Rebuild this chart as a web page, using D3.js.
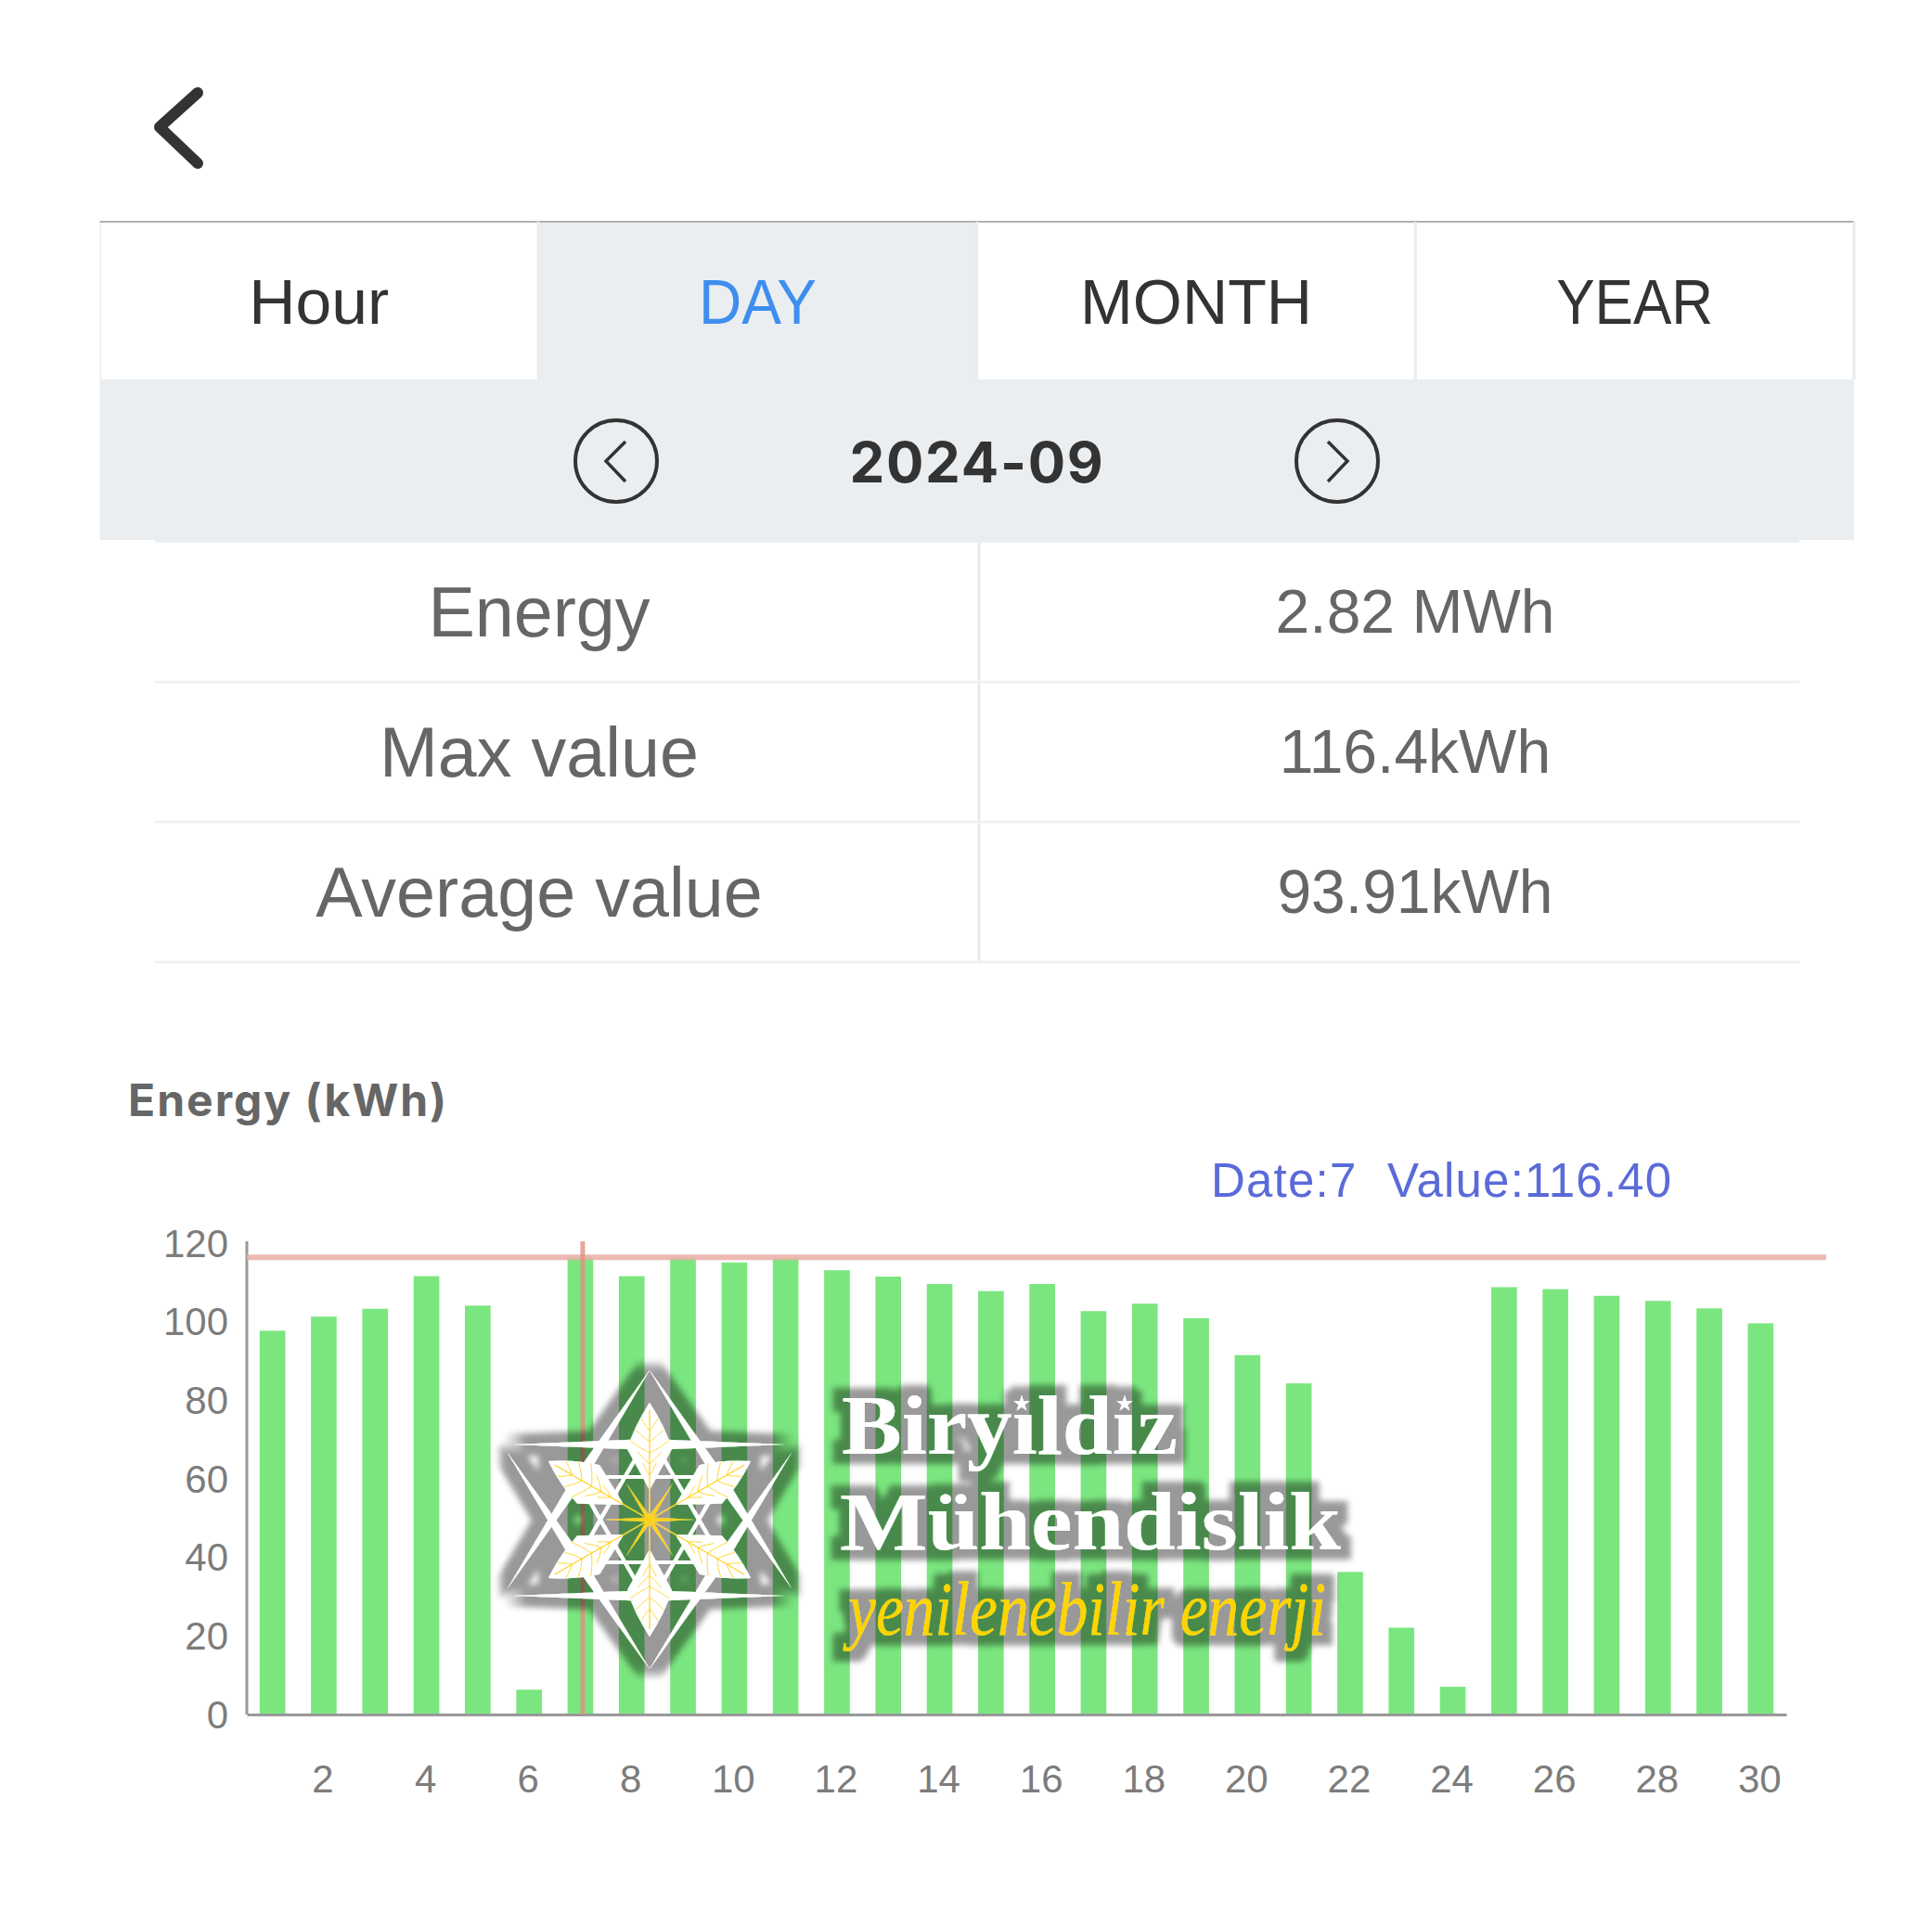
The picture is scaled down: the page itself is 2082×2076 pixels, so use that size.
<!DOCTYPE html>
<html>
<head>
<meta charset="utf-8">
<script src="https://d3js.org/d3.v7.min.js"></script>
<style>
  html, body { margin: 0; padding: 0; background: #fff; }
  svg { display: block; }
  text { font-family: "Liberation Sans", sans-serif; }
</style>
</head>
<body>
<svg id="chart" width="2082" height="2076"></svg>
<script>
// values
const days = d3.range(1, 31);
const energy = [97.7, 101.3, 103.3, 111.6, 104.1, 6.3, 116.4, 111.6, 116.2, 115.1,
  116.1, 113.1, 111.5, 109.6, 107.8, 109.6, 102.7, 104.6, 100.9, 91.5,
  84.3, 36.3, 22.1, 7.05, 108.8, 108.3, 106.6, 105.3, 103.4, 99.6];
const yTicks = [0, 20, 40, 60, 80, 100, 120];
const xTicks = days.filter(d => d % 2 === 0);
const tabs = ["Hour", "DAY", "MONTH", "YEAR"];
const tabWidths = [151, 127, 250, 169];
const summaryRows = ["Energy", "Max value", "Average value"];
const summaryValues = ["2.82 MWh", "116.4kWh", "93.91kWh"];
const selectedDay = 7;
const maxValue = 116.4;

const svg = d3.select("#chart");

// header
svg.append("path")
  .attr("d", "M213,100L172,137L213,176")
  .attr("fill", "none").attr("stroke", "#333").attr("stroke-width", 12)
  .attr("stroke-linecap", "round").attr("stroke-linejoin", "round");

const left = 107.5, right = 1998, tabTop = 239, tabBottom = 409, bandBottom = 582;
const tabX = d3.scaleBand().domain(tabs).range([left, right]);

svg.append("rect").attr("x", left).attr("y", tabBottom)
  .attr("width", right - left).attr("height", bandBottom - tabBottom).attr("fill", "#ebeef1");
svg.append("rect").attr("x", 167).attr("y", bandBottom)
  .attr("width", 1772).attr("height", 3).attr("fill", "#ebeef1");
svg.append("rect").attr("x", tabX("DAY")).attr("y", tabTop)
  .attr("width", tabX.bandwidth()).attr("height", tabBottom - tabTop).attr("fill", "#ebeef1");
svg.append("line").attr("x1", left + 1).attr("x2", left + 1).attr("y1", tabTop).attr("y2", tabBottom)
  .attr("stroke", "#eceef0").attr("stroke-width", 2);
svg.append("line").attr("x1", left).attr("x2", right).attr("y1", tabTop).attr("y2", tabTop)
  .attr("stroke", "#b0b0b0").attr("stroke-width", 2);

tabs.forEach((t, i) => {
  svg.append("line").attr("x1", tabX(t) + tabX.bandwidth()).attr("x2", tabX(t) + tabX.bandwidth())
    .attr("y1", tabTop).attr("y2", tabBottom).attr("stroke", "#e9ebee").attr("stroke-width", 3);
  svg.append("text").attr("x", tabX(t) + tabX.bandwidth() / 2).attr("y", 349)
    .attr("text-anchor", "middle").attr("font-size", 69)
    .attr("textLength", tabWidths[i]).attr("lengthAdjust", "spacingAndGlyphs")
    .attr("fill", t === "DAY" ? "#3e8ef0" : "#333").text(t);
});

// month switcher
[[664, "M674,476L653,497L674,519"], [1441, "M1431,476L1452,497L1431,519"]].forEach(([cx, d]) => {
  svg.append("circle").attr("cx", cx).attr("cy", 497).attr("r", 44)
    .attr("fill", "none").attr("stroke", "#333").attr("stroke-width", 4);
  svg.append("path").attr("d", d).attr("fill", "none").attr("stroke", "#333").attr("stroke-width", 3.5);
});
svg.append("text").attr("x", 1053).attr("y", 520).attr("text-anchor", "middle")
  .style("font-family", "Inter").attr("font-size", 60).attr("font-weight", 700)
  .attr("letter-spacing", 1.7).attr("fill", "#333").text("2024-09");

// summary table
const rowLines = [735, 886, 1037];
svg.append("line").attr("x1", 1055).attr("x2", 1055).attr("y1", bandBottom + 3).attr("y2", 1037)
  .attr("stroke", "#e8ebee").attr("stroke-width", 3);
rowLines.forEach((y, i) => {
  svg.append("line").attr("x1", 167).attr("x2", 1939).attr("y1", y).attr("y2", y)
    .attr("stroke", "#eef0f2").attr("stroke-width", 2.5);
  svg.append("text").attr("x", 581).attr("y", y - 49).attr("text-anchor", "middle")
    .attr("font-size", 75.5).attr("fill", "#666").text(summaryRows[i]);
  svg.append("text").attr("x", 1525).attr("y", y - 53).attr("text-anchor", "middle")
    .attr("font-size", 66).attr("fill", "#666").text(summaryValues[i]);
});

// chart
svg.append("text").attr("x", 138).attr("y", 1203)
  .style("font-family", "Inter").attr("font-size", 48).attr("font-weight", 700)
  .attr("letter-spacing", 2).attr("fill", "#666").text("Energy (kWh)");
svg.append("text").attr("x", 1305).attr("y", 1290).attr("font-size", 51)
  .attr("letter-spacing", 1.2).attr("fill", "#5a6bd8").text(`Date:${selectedDay}`);
svg.append("text").attr("x", 1495).attr("y", 1290).attr("font-size", 51)
  .attr("letter-spacing", 1.2).attr("fill", "#5a6bd8").text(`Value:${maxValue.toFixed(2)}`);

const x = d3.scaleBand().domain(days).range([266, 1925]).paddingInner(0.5).paddingOuter(0.25);
const y = d3.scaleLinear().domain([0, 120]).range([1848, 1340]);

svg.append("g").selectAll("rect").data(days).join("rect")
  .attr("x", d => x(d))
  .attr("y", (d, i) => y(energy[i]))
  .attr("width", x.bandwidth())
  .attr("height", (d, i) => y(0) - y(energy[i]))
  .attr("fill", "#7be67f");

const yAxis = svg.append("g").attr("transform", "translate(266,0)")
  .call(d3.axisLeft(y).tickValues(yTicks).tickSize(0).tickPadding(20));
const xAxis = svg.append("g").attr("transform", "translate(-1,1848)")
  .call(d3.axisBottom(x).tickValues(xTicks).tickSize(0).tickPadding(54));
[yAxis, xAxis].forEach(a => {
  a.selectAll("text").style("font-family", "Liberation Sans").attr("font-size", 42).attr("fill", "#7c7c7c");
  a.select(".domain").attr("stroke", "#999").attr("stroke-width", 3);
});
yAxis.select(".domain").attr("d", `M0,${y(0)}V1338`);
xAxis.select(".domain").attr("transform", "translate(1,0)");
yAxis.selectAll("text").attr("dy", "0.34em");

// highlighted maximum
svg.append("line").attr("x1", 266).attr("x2", 1968).attr("y1", y(maxValue)).attr("y2", y(maxValue))
  .attr("stroke", "#eaaea4").attr("stroke-opacity", 0.85).attr("stroke-width", 6);
const selX = x(selectedDay) + x.bandwidth() / 2 + 2.5;
svg.append("line").attr("x1", selX).attr("x2", selX).attr("y1", 1338).attr("y2", y(0))
  .attr("stroke", "#e0917f").attr("stroke-opacity", 0.8).attr("stroke-width", 5);

// watermark
const defs = svg.append("defs");
const halo = defs.append("filter").attr("id", "halo").attr("filterUnits", "userSpaceOnUse")
  .attr("x", 480).attr("y", 1430).attr("width", 1040).attr("height", 420);
halo.append("feMorphology").attr("in", "SourceAlpha").attr("operator", "dilate")
  .attr("radius", 11).attr("result", "fat");
halo.append("feGaussianBlur").attr("in", "fat").attr("stdDeviation", 3).attr("result", "soft");
halo.append("feFlood").attr("flood-color", "#000").attr("flood-opacity", 0.4).attr("result", "ink");
halo.append("feComposite").attr("in", "ink").attr("in2", "soft").attr("operator", "in").attr("result", "shadow");
const haloMerge = halo.append("feMerge");
haloMerge.append("feMergeNode").attr("in", "shadow");
haloMerge.append("feMergeNode").attr("in", "SourceGraphic");

const mark = svg.append("g").attr("filter", "url(#halo)");
const logo = mark.append("g").attr("transform", "translate(700,1638)");

const spindle = (a, b, w) => {
  const mx = (a[0] + b[0]) / 2, my = (a[1] + b[1]) / 2;
  const dx = b[0] - a[0], dy = b[1] - a[1], len = Math.hypot(dx, dy);
  const nx = -dy / len * w, ny = dx / len * w;
  return `M${a}L${mx + nx},${my + ny}L${b}L${mx - nx},${my - ny}Z`;
};
const outer = [
  [[0, -161], [-153, 74]], [[0, -161], [153, 74]],
  [[0, 161], [-153, -72]], [[0, 161], [153, -72]],
  [[-146, -81], [145, -81]], [[-146, 82], [145, 82]]
];
outer.forEach(([a, b]) => logo.append("path").attr("d", spindle(a, b, 6)).attr("fill", "#fff"));

// inner star
const innerR = 92;
const corner = deg => [innerR * Math.sin(deg * Math.PI / 180), -innerR * Math.cos(deg * Math.PI / 180)];
[[0, 120], [120, 240], [240, 0], [60, 180], [180, 300], [300, 60]].forEach(([p, q]) => {
  logo.append("line").attr("x1", corner(p)[0]).attr("y1", corner(p)[1])
    .attr("x2", corner(q)[0]).attr("y2", corner(q)[1])
    .attr("stroke", "#fff").attr("stroke-width", 4);
});

// six leaves
const leafPath = "M0,-32L24,-76Q17,-100 0,-126Q-17,-100 -24,-76Z";
d3.range(6).forEach(i => {
  const leaf = logo.append("g").attr("transform", `rotate(${i * 60})`);
  leaf.append("path").attr("d", leafPath).attr("fill", "#fff");
  leaf.append("line").attr("y1", 0).attr("y2", -118)
    .attr("stroke", "#ffd21e").attr("stroke-width", 1.2);
  [48, 60, 72, 84, 96].forEach(r => {
    const reach = r < 70 ? (r - 32) * 0.45 : Math.max(6, (114 - r) * 0.5);
    [-1, 1].forEach(s => {
      leaf.append("path")
        .attr("d", `M0,${-r}Q${s * reach * 0.5},${-r - 5} ${s * reach},${-r - 13}`)
        .attr("fill", "none").attr("stroke", "#ffd21e").attr("stroke-width", 0.8);
    });
  });
});

// yellow spikes around the middle
[[[-48, 0], [48, 0]], [[-25, -39], [25, 39]], [[25, -39], [-25, 39]]].forEach(([a, b]) => {
  logo.append("path").attr("d", spindle(a, b, 2.4)).attr("fill", "#ffd21e");
});
logo.append("circle").attr("r", 3.2).attr("fill", "#ffd21e");

mark.append("text").attr("x", 907).attr("y", 1567)
  .style("font-family", "Liberation Serif").attr("font-size", 92).attr("font-weight", 700)
  .attr("textLength", 362).attr("lengthAdjust", "spacingAndGlyphs")
  .attr("fill", "#fff").text("Biryıldız");
[1101, 1212].forEach(sx => {
  mark.append("path").attr("transform", `translate(${sx},1513)`)
    .attr("d", d3.symbol(d3.symbolStar, 90)).attr("fill", "#fff");
});
mark.append("text").attr("x", 905).attr("y", 1670)
  .style("font-family", "Liberation Serif").attr("font-size", 88).attr("font-weight", 700)
  .attr("textLength", 540).attr("lengthAdjust", "spacingAndGlyphs")
  .attr("fill", "#fff").text("Mühendislik");
mark.append("text").attr("x", 914).attr("y", 1762)
  .style("font-family", "Liberation Serif").attr("font-size", 82).attr("font-style", "italic")
  .attr("textLength", 515).attr("lengthAdjust", "spacingAndGlyphs")
  .attr("fill", "#ffd400").text("yenilenebilir enerji");
</script>
</body>
</html>
